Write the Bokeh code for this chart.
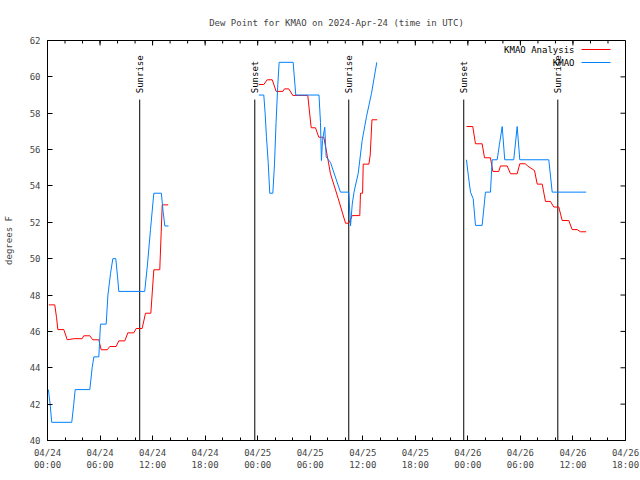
import math
from bokeh.plotting import figure
from bokeh.models import FixedTicker, Range1d
from bokeh.core.properties import value
from bokeh.embed import file_html
from bokeh.resources import INLINE

NaN = float("nan")

# Hours since 2024-04-24 00:00 UTC
analysis_hours = [0.15, 0.83, 1.03, 1.18, 1.86, 2.25, 3.0, 3.96, 4.14, 4.83, 5.17, 5.86, 6.13, 6.82,
                  7.11, 7.84, 8.14, 8.83, 9.17, 9.85, 10.13, 10.81, 11.19, 11.8, 12.14, 12.82, 13.1, 13.78,
                  NaN,
                  24.13, 24.7, 25.09, 25.66, 26.11, 26.87, 27.06, 27.55, 28.01, 29.72, 30.11, 30.6, 30.98,
                  31.55, 31.94, 32.31, 33.2, 34.03, 34.4, 34.79, 35.66, 35.74, 35.98, 36.05, 36.7, 36.85,
                  37.05, 37.65,
                  NaN,
                  47.84, 48.56, 48.87, 49.63, 49.9, 50.58, 50.85, 51.53, 51.72, 52.49, 52.87, 53.63, 53.93,
                  54.58, 54.81, 55.61, 55.92, 56.49, 56.86, 57.43, 57.81, 58.38, 58.77, 59.52, 59.91, 60.48,
                  60.86, 61.51]
analysis_dewpt = [47.46, 47.46, 46.77, 46.1, 46.1, 45.54, 45.6, 45.6, 45.76, 45.76, 45.54, 45.54, 44.99, 44.99,
                  45.17, 45.17, 45.48, 45.48, 45.92, 45.92, 46.16, 46.16, 47.0, 47.0, 49.39, 49.39, 52.96, 52.96,
                  NaN,
                  59.58, 59.58, 59.84, 59.84, 59.2, 59.2, 59.34, 59.34, 58.98, 58.98, 57.2, 57.2, 56.68,
                  56.68, 55.68, 54.67, 53.3, 51.95, 51.95, 52.37, 52.37, 53.6, 53.6, 55.2, 55.2, 55.7,
                  57.64, 57.64,
                  NaN,
                  57.27, 57.27, 56.32, 56.32, 55.55, 55.55, 54.8, 54.8, 55.1, 55.1, 54.67, 54.67, 55.22,
                  55.22, 55.1, 54.85, 54.1, 54.1, 53.15, 53.15, 52.84, 52.84, 52.1, 52.1, 51.6, 51.6,
                  51.48, 51.48]

obs_hours = [0.1, 0.3, 0.48, 2.77, 3.0, 3.16, 4.83, 5.1, 5.29, 5.86, 6.05, 6.7, 6.9, 7.2, 7.46, 7.8, 8.0,
             8.14, 11.1, 11.4, 11.76, 12.14, 13.0, 13.2, 13.4, 13.82,
             NaN,
             24.13, 24.7, 24.85, 25.0, 25.2, 25.38, 25.73, 25.92, 26.1, 26.3, 26.45, 28.05, 28.35, 31.0,
             31.17, 31.28, 31.4, 31.66, 31.82, 32.31, 33.45, 34.4, 34.6, 34.8, 35.0, 35.48, 35.93, 36.42,
             37.0, 37.6,
             NaN,
             47.84, 48.07, 48.3, 48.61, 48.87, 49.63, 50.01, 50.58, 50.78, 51.35, 51.61, 51.92, 52.21,
             53.24, 53.63, 53.93, 57.24, 57.63, 61.51]
obs_dewpt = [42.8, 42.0, 41.0, 41.0, 42.0, 42.8, 42.8, 44.0, 44.6, 44.6, 46.4, 46.4, 48.0, 49.2, 50.0, 50.0, 49.0,
             48.2, 48.2, 49.6, 51.6, 53.6, 53.6, 52.6, 51.8, 51.8,
             NaN,
             59.0, 59.0, 58.0, 56.7, 55.3, 53.6, 53.6, 55.2, 57.5, 59.6, 60.8, 60.8, 59.0, 59.0,
             57.5, 55.4, 56.5, 57.23, 55.6, 55.3, 53.66, 53.66, 51.8, 53.0, 53.66, 54.7, 56.5, 57.8,
             59.1, 60.8,
             NaN,
             55.44, 54.5, 53.66, 53.3, 51.83, 51.83, 53.66, 53.66, 55.44, 55.44, 56.3, 57.27, 55.44,
             55.44, 57.27, 55.44, 55.44, 53.66, 53.66]

event_hours = [10.53, 23.67, 34.4, 47.53, 58.27]
event_names = ["Sunrise", "Sunset", "Sunrise", "Sunset", "Sunrise"]

x_tick_hours = [0, 6, 12, 18, 24, 30, 36, 42, 48, 54, 60, 66]
x_tick_labels = ["04/24\n00:00", "04/24\n06:00", "04/24\n12:00", "04/24\n18:00",
                 "04/25\n00:00", "04/25\n06:00", "04/25\n12:00", "04/25\n18:00",
                 "04/26\n00:00", "04/26\n06:00", "04/26\n12:00", "04/26\n18:00"]
x_minor_hours = list(range(0, 67, 2))
y_ticks = [40, 42, 44, 46, 48, 50, 52, 54, 56, 58, 60, 62]

series_names = ["KMAO Analysis", "KMAO"]
series_colors = ["#ff0000", "#0080ff"]

FONT = "DejaVu Sans Mono"
FS = "9px"

X0, X1, Y0, Y1 = 0, 66, 40, 62
FRAME_W, FRAME_H = 578, 400
px_x = (X1 - X0) / FRAME_W   # data units per pixel
px_y = (Y1 - Y0) / FRAME_H

p = figure(width=640, height=480, output_backend="svg", toolbar_location=None,
           x_range=Range1d(X0, X1), y_range=Range1d(Y0, Y1),
           min_border_left=47, min_border_right=15, min_border_top=40, min_border_bottom=40,
           title="Dew Point for KMAO on 2024-Apr-24 (time in UTC)")
p.title.align = "center"
p.title.text_font = FONT
p.title.text_font_size = FS
p.title.text_font_style = "normal"
p.title.standoff = 26
p.grid.visible = False
p.outline_line_color = "black"
p.outline_line_alpha = 1.0
p.background_fill_color = "white"
p.border_fill_color = "white"

ax = p.xaxis[0]
ax.ticker = FixedTicker(ticks=x_tick_hours, minor_ticks=x_minor_hours)
ax.major_tick_in = 5
ax.major_tick_out = 0
ax.minor_tick_in = 3
ax.minor_tick_out = 0
ax.axis_line_color = "black"
ax.major_label_text_font = FONT
ax.major_label_text_font_size = FS
ax.major_label_standoff = 7
ax.major_label_overrides = dict(zip(x_tick_hours, x_tick_labels))

ay = p.yaxis[0]
ay.ticker = FixedTicker(ticks=y_ticks, minor_ticks=[])
ay.major_tick_in = 5
ay.major_tick_out = 0
ay.minor_tick_in = 0
ay.minor_tick_out = 0
ay.axis_line_color = "black"
ay.major_label_text_font = FONT
ay.major_label_text_font_size = FS
ay.major_label_standoff = 7
ay.axis_label = "degrees F"
ay.axis_label_text_font = FONT
ay.axis_label_text_font_size = FS
ay.axis_label_text_font_style = "normal"
ay.axis_label_standoff = 13

# Mirrored inward ticks on the top and right edges of the frame
p.segment(x0=x_tick_hours, y0=[Y1] * len(x_tick_hours), x1=x_tick_hours,
          y1=[Y1 - 5 * px_y] * len(x_tick_hours), line_color="black", line_width=1)
p.segment(x0=x_minor_hours, y0=[Y1] * len(x_minor_hours), x1=x_minor_hours,
          y1=[Y1 - 3 * px_y] * len(x_minor_hours), line_color="black", line_width=1)
p.segment(x0=[X1] * len(y_ticks), y0=y_ticks, x1=[X1 - 5 * px_x] * len(y_ticks), y1=y_ticks,
          line_color="black", line_width=1)

# Sunrise / sunset markers
p.segment(x0=event_hours, y0=[Y0] * len(event_hours), x1=event_hours, y1=[58.75] * len(event_hours),
          line_color="black", line_width=1)
p.text(x=event_hours, y=[59.1] * len(event_hours), text=event_names, angle=math.pi / 2,
       text_align="left", text_baseline="middle", text_font=value(FONT), text_font_size=FS,
       text_color="black")

p.line(analysis_hours, analysis_dewpt, line_color=series_colors[0], line_width=1)
p.line(obs_hours, obs_dewpt, line_color=series_colors[1], line_width=1)

# Legend (gnuplot style: text right-aligned, sample line to the right)
leg_y = [Y1 - 9 * px_y, Y1 - 22 * px_y]
leg_text_x = X1 - 51 * px_x
leg_line_x0 = X1 - 44 * px_x
leg_line_x1 = X1 - 15 * px_x
p.text(x=[leg_text_x] * 2, y=leg_y, text=series_names, text_align="right", text_baseline="middle",
       text_font=value(FONT), text_font_size=FS, text_color="black")
p.segment(x0=[leg_line_x0] * 2, y0=leg_y, x1=[leg_line_x1] * 2, y1=leg_y,
          line_color=series_colors, line_width=1)

open("out.html", "w").write(file_html(p, INLINE))
